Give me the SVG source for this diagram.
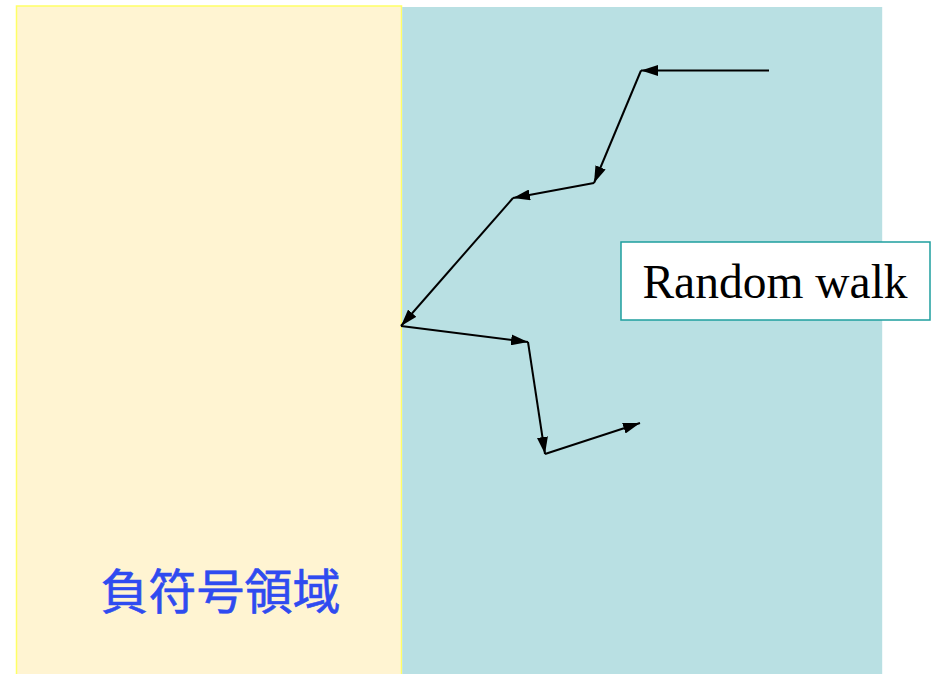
<svg xmlns="http://www.w3.org/2000/svg" width="934" height="674" viewBox="0 0 934 674">
<defs>
<marker id="ah" viewBox="0 0 17 11" refX="17" refY="5.5" markerWidth="17" markerHeight="11" markerUnits="userSpaceOnUse" orient="auto">
<path d="M0,0 L17,5.5 L0,11 Z" fill="#000"/>
</marker>
<style>
.walk{stroke:#000;stroke-width:2;fill:none;marker-end:url(#ah)}
</style>
</defs>
<rect width="934" height="674" fill="#fff"/>
<g id="negative-region">
<rect x="16.5" y="6" width="385" height="680" fill="#FFF4D2" stroke="#FFFF66" stroke-width="1.5"/>
<text x="220.5" y="609" font-family="'Noto Sans CJK JP','Noto Sans CJK SC',sans-serif" font-size="48" fill="#2F4BF0" stroke="#2F4BF0" stroke-width="0.6" text-anchor="middle">負符号領域</text>
</g>
<g id="positive-region">
<rect x="402.2" y="7" width="480" height="680" fill="#B9E0E3"/>
</g>
<g id="connectors">
<line class="walk" x1="769" y1="70.5" x2="641" y2="70.5"/>
<line class="walk" x1="641" y1="70.5" x2="594" y2="183"/>
<line class="walk" x1="594" y1="183" x2="513" y2="198"/>
<line class="walk" x1="513" y1="198" x2="401" y2="326"/>
<line class="walk" x1="401" y1="326" x2="528" y2="342"/>
<line class="walk" x1="528" y1="342" x2="545" y2="454"/>
<line class="walk" x1="545" y1="454" x2="640" y2="423"/>
</g>
<g id="label-box">
<rect x="621" y="242" width="309" height="78" fill="#fff" stroke="#1E9E9E" stroke-width="1.5"/>
<text x="775" y="298" font-family="'Liberation Serif',serif" font-size="47.5" fill="#000" text-anchor="middle">Random walk</text>
</g>
</svg>
